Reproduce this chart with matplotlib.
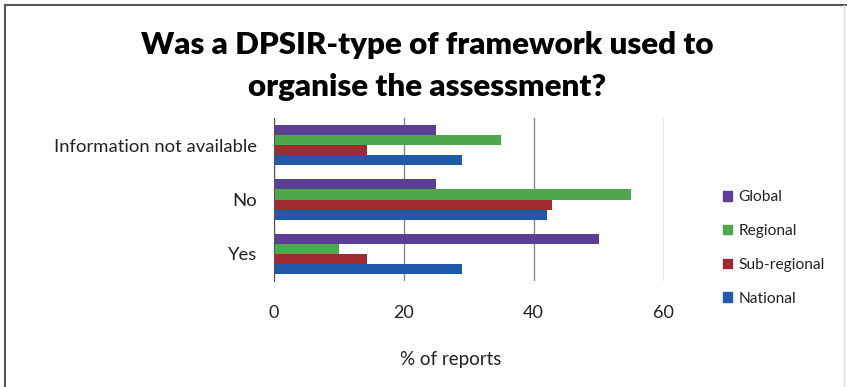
import matplotlib.pyplot as plt
import matplotlib.patches as mpatches
import matplotlib.lines as mlines
import numpy as np

plt.rcParams['font.family'] = ['Lato', 'DejaVu Sans']

categories = ['Yes', 'No', 'Information not available']
series = ['Global', 'Regional', 'Sub-regional', 'National']
values = {
    'Global':       [50.0, 25.0, 25.0],
    'Regional':     [10.0, 55.0, 35.0],
    'Sub-regional': [14.3, 42.9, 14.3],
    'National':     [29.0, 42.0, 29.0],
}
colors = {
    'Global': '#5a3f95',
    'Regional': '#4fa84b',
    'Sub-regional': '#9e2b30',
    'National': '#1f5aa8',
}

W, H = 847, 387
fig = plt.figure(figsize=(W / 100, H / 100), dpi=100)
ax = fig.add_axes([274 / W, 1 - 281 / H, (663.5 - 274) / W, 163 / H])

y = np.arange(len(categories))
h = 0.185
# National at bottom of each group, Global at top
for i, name in enumerate(reversed(series)):
    off = (i - 1.5) * h
    ax.barh(y + off, values[name], height=h, color=colors[name],
            label=name, zorder=3)

ax.set_xlim(0, 60)
ax.set_ylim(-0.5, 2.5)
ax.set_xticks([0, 20, 40, 60])
ax.set_yticks(y)
ax.set_yticklabels(categories, fontsize=13.3, color='#222222')
ax.tick_params(axis='x', length=0, pad=17, labelsize=13, labelcolor='#222222')
ax.tick_params(axis='y', length=0, pad=12)
ax.grid(True, axis='x', color='#888888', linewidth=1.0, zorder=0)
for s in ['top', 'right', 'bottom']:
    ax.spines[s].set_visible(False)
ax.spines['left'].set_color('#555555')
ax.spines['left'].set_zorder(4)

fig.text(451 / W, 1 - 360 / H, '% of reports', ha='center', va='center',
         fontsize=13.5, color='#222222')

fig.text(427 / W, 1 - 45 / H, 'Was a DPSIR-type of framework used to',
         ha='center', va='center', fontsize=22.5, fontweight='heavy')
fig.text(427 / W, 1 - 87 / H, 'organise the assessment?',
         ha='center', va='center', fontsize=22.5, fontweight='heavy')

handles = [mpatches.Patch(color=colors[n]) for n in series]
fig.legend(handles, series, loc='center left',
           bbox_to_anchor=(709 / W, 1 - 248 / H), frameon=False,
           fontsize=11.2, handlelength=0.6, handleheight=0.6,
           handletextpad=0.4, labelspacing=1.28, labelcolor='#222222')

# outer frame (left and top dark, right faint)
fig.add_artist(mlines.Line2D([4.5 / W, 4.5 / W], [0, 1 - 4.5 / H],
                             transform=fig.transFigure, color='#555555', lw=1.5))
fig.add_artist(mlines.Line2D([4.5 / W, 1], [1 - 4.5 / H, 1 - 4.5 / H],
                             transform=fig.transFigure, color='#555555', lw=1.5))
fig.add_artist(mlines.Line2D([844 / W, 844 / W], [0, 1 - 4.5 / H],
                             transform=fig.transFigure, color='#dddddd', lw=1.0))

fig.savefig('out.png', dpi=100)
